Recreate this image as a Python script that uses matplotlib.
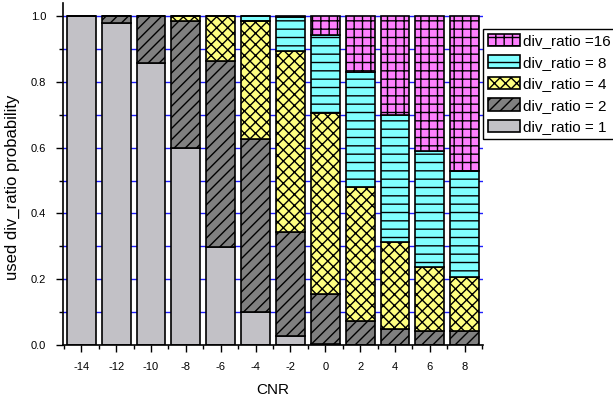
import numpy as np
import matplotlib
matplotlib.use("Agg")
import matplotlib.pyplot as plt
from matplotlib.ticker import MultipleLocator

plt.rcParams["font.family"] = ["Liberation Sans", "DejaVu Sans"]
plt.rcParams["hatch.linewidth"] = 1.0

cnr = [-14, -12, -10, -8, -6, -4, -2, 0, 2, 4, 6, 8]

# probability of each div_ratio per CNR (stacked bottom -> top)
div1 = [1.0, 0.978, 0.858, 0.600, 0.297, 0.101, 0.027, 0.003, 0.0, 0.0, 0.0, 0.0]
div2 = [0.0, 0.022, 0.142, 0.385, 0.567, 0.524, 0.316, 0.152, 0.072, 0.048, 0.043, 0.043]
div4 = [0.0, 0.0, 0.0, 0.015, 0.136, 0.361, 0.552, 0.552, 0.407, 0.265, 0.195, 0.165]
div8 = [0.0, 0.0, 0.0, 0.0, 0.0, 0.014, 0.101, 0.235, 0.350, 0.386, 0.353, 0.321]
div16 = [0.0, 0.0, 0.0, 0.0, 0.0, 0.0, 0.004, 0.058, 0.171, 0.301, 0.409, 0.471]

series = [div1, div2, div4, div8, div16]
labels = ["div_ratio = 1", "div_ratio = 2", "div_ratio = 4", "div_ratio = 8", "div_ratio =16"]
colors = ["#C2C1C6", "#808080", "#FFFF80", "#80FFFF", "#FF80FF"]
hatches = ["", "///", "xxx", "--", "++"]

fig = plt.figure(figsize=(6.13, 3.99), dpi=100)
ax = fig.add_axes([63 / 613, 54 / 399, 420 / 613, 342 / 399])

for y in np.arange(0.1, 1.01, 0.1):
    ax.axhline(y, color="#2020FF", lw=1.0, zorder=0)

bottom = np.zeros(len(cnr))
handles = []
for vals, lab, col, h in zip(series, labels, colors, hatches):
    b = ax.bar(cnr, vals, width=1.66, bottom=bottom, color=col, hatch=h,
               edgecolor="black", linewidth=1.2, label=lab, zorder=2)
    handles.append(b)
    bottom += np.array(vals)

ax.set_xlim(-15.05, 9.05)
ax.set_ylim(0, 1.04)
ax.set_xticks(cnr)
ax.set_xticklabels([str(c) for c in cnr])
ax.set_xticks(np.arange(-15, 10, 2), minor=True)
ax.set_yticks(np.arange(0, 1.01, 0.2))
ax.set_yticklabels(["0.0", "0.2", "0.4", "0.6", "0.8", "1.0"])
ax.yaxis.set_minor_locator(MultipleLocator(0.1))
ax.tick_params(axis="both", which="major", length=5, width=1, labelsize=8, direction="out")
ax.tick_params(axis="both", which="minor", length=3, width=1, direction="out")
ax.tick_params(axis="x", pad=7)
ax.tick_params(axis="y", pad=7)

ax.spines["top"].set_visible(False)
ax.spines["right"].set_visible(False)
ax.spines["left"].set_linewidth(1.2)
ax.spines["bottom"].set_linewidth(1.2)

ax.set_xlabel("CNR", fontsize=11, labelpad=8)
fig.text(12.5 / 613, 1 - 187 / 399, "used div_ratio probability", fontsize=12,
         rotation=90, ha="center", va="center")

leg = fig.legend(handles[::-1], labels[::-1], loc="upper left",
                 bbox_to_anchor=(483 / 613, 1 - 29 / 399), fontsize=11,
                 handlelength=2.15, handleheight=0.9, handletextpad=0.2,
                 labelspacing=0.45, borderpad=0.3, borderaxespad=0,
                 fancybox=False, framealpha=1, edgecolor="black")
leg.get_frame().set_linewidth(1.0)

fig.savefig("out.png", dpi=100)
